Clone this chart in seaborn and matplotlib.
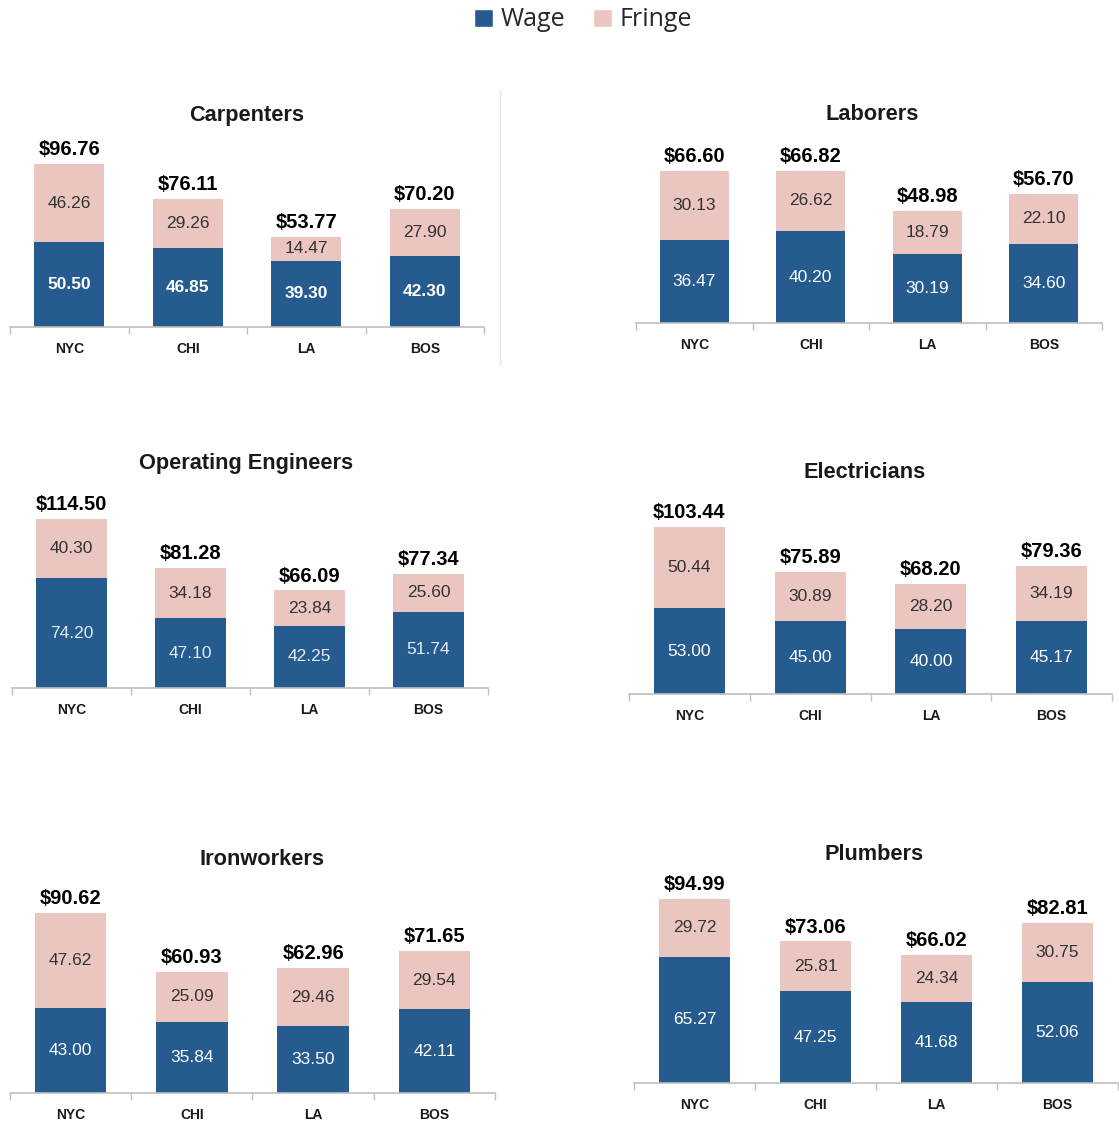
import matplotlib
matplotlib.use("Agg")
import matplotlib.pyplot as plt
from matplotlib.patches import Patch
from matplotlib.lines import Line2D
import seaborn as sns
import pandas as pd

sns.set_style("white")
plt.rcParams['font.family'] = ['Liberation Sans', 'DejaVu Sans']

cities = ["NYC", "CHI", "LA", "BOS"]

carpenters_wage = [50.50, 46.85, 39.30, 42.30]
carpenters_fringe = [46.26, 29.26, 14.47, 27.90]
carpenters_total = [96.76, 76.11, 53.77, 70.20]

laborers_wage = [36.47, 40.20, 30.19, 34.60]
laborers_fringe = [30.13, 26.62, 18.79, 22.10]
laborers_total = [66.60, 66.82, 48.98, 56.70]

operating_wage = [74.20, 47.10, 42.25, 51.74]
operating_fringe = [40.30, 34.18, 23.84, 25.60]
operating_total = [114.50, 81.28, 66.09, 77.34]

electricians_wage = [53.00, 45.00, 40.00, 45.17]
electricians_fringe = [50.44, 30.89, 28.20, 34.19]
electricians_total = [103.44, 75.89, 68.20, 79.36]

ironworkers_wage = [43.00, 35.84, 33.50, 42.11]
ironworkers_fringe = [47.62, 25.09, 29.46, 29.54]
ironworkers_total = [90.62, 60.93, 62.96, 71.65]

plumbers_wage = [65.27, 47.25, 41.68, 52.06]
plumbers_fringe = [29.72, 25.81, 24.34, 30.75]
plumbers_total = [94.99, 73.06, 66.02, 82.81]

WAGE = "#255B8F"
FRINGE = "#EBC5C0"

W, H = 1119, 1127
fig = plt.figure(figsize=(W / 100, H / 100), dpi=100)

# layout in pixels: axis_y, x0, x1, px-per-unit, title_x, title_y
panels = [
    ("Carpenters", carpenters_wage, carpenters_fringe, carpenters_total,
     327, 10, 484, 1.683, 247, 124, dict(wage_bold=True, wage_color="white")),
    ("Laborers", laborers_wage, laborers_fringe, laborers_total,
     323, 636, 1102, 2.28, 872, 123, dict(wage_bold=False, wage_color="white")),
    ("Operating Engineers", operating_wage, operating_fringe, operating_total,
     688, 12, 488, 1.476, 246, 472, dict(wage_bold=False, wage_color="#E4E9F2")),
    ("Electricians", electricians_wage, electricians_fringe, electricians_total,
     694, 629, 1112, 1.614, 865, 481, dict(wage_bold=False, wage_color="white")),
    ("Ironworkers", ironworkers_wage, ironworkers_fringe, ironworkers_total,
     1093, 10, 495, 1.986, 262, 868, dict(wage_bold=False, wage_color="white")),
    ("Plumbers", plumbers_wage, plumbers_fringe, plumbers_total,
     1083, 634, 1118, 1.937, 874, 863, dict(wage_bold=False, wage_color="white")),
]

AX_H = 210
for title, wage, fringe, total, ay, x0, x1, scale, tx, ty, sty in panels:
    ax = fig.add_axes([x0 / W, 1 - ay / H, (x1 - x0) / W, AX_H / H])
    df = pd.DataFrame({"city": cities, "wage": wage, "fringe": fringe})
    df["stack"] = df["wage"] + df["fringe"]
    sns.barplot(data=df, x="city", y="stack", color=FRINGE, saturation=1,
                width=0.59, ax=ax, order=cities, linewidth=0)
    sns.barplot(data=df, x="city", y="wage", color=WAGE, saturation=1,
                width=0.59, ax=ax, order=cities, linewidth=0)
    ax.set_xlim(-0.5, 3.5)
    ax.set_ylim(0, AX_H / scale)
    ax.set_xlabel("")
    ax.set_ylabel("")
    ax.set_yticks([])
    for s in ["top", "right", "left"]:
        ax.spines[s].set_visible(False)
    ax.spines["bottom"].set_color("#BFBFBF")
    ax.spines["bottom"].set_linewidth(1.2)
    ax.set_xticks([-0.5, 0.5, 1.5, 2.5, 3.5])
    ax.set_xticklabels([])
    ax.tick_params(axis="x", which="major", length=5, width=1, color="#BFBFBF",
                   direction="out", bottom=True)
    ax.set_xticks(range(4), minor=True)
    ax.set_xticklabels(cities, minor=True, fontsize=10, fontweight="bold",
                       color="#1a1a1a")
    ax.tick_params(axis="x", which="minor", length=0, pad=11)

    for i in range(4):
        ax.text(i, wage[i] / 2, f"{wage[i]:.2f}", ha="center", va="center",
                fontsize=12.5, color=sty["wage_color"],
                fontweight="bold" if sty["wage_bold"] else "normal")
        ax.text(i, wage[i] + fringe[i] / 2, f"{fringe[i]:.2f}", ha="center",
                va="center", fontsize=12.5, color="#333333")
        ax.annotate(f"${total[i]:.2f}", (i, wage[i] + fringe[i]),
                    xytext=(0, 3.5), textcoords="offset points",
                    ha="center", va="bottom", fontsize=14.5, fontweight="bold",
                    color="black")
    ax.set_title(title, x=(tx - x0) / (x1 - x0), y=(ay - ty) / AX_H,
                 va="center", ha="center", fontsize=15.7,
                 fontweight="bold", color="#1a1a1a")

# separator line next to first panel
fig.add_artist(Line2D([500 / W, 500 / W], [1 - 90 / H, 1 - 365 / H],
                      color="#E6E6E6", linewidth=1))

handles = [Patch(facecolor=WAGE, label="Wage"), Patch(facecolor=FRINGE, label="Fringe")]
leg = fig.legend(handles=handles, loc="center", bbox_to_anchor=(583 / W, 1 - 20 / H),
                 ncol=2, frameon=False, handlelength=0.75, handleheight=0.75,
                 handletextpad=0.3, columnspacing=1.1,
                 prop={"family": ["Open Sans", "DejaVu Sans"], "size": 18})

fig.savefig("out.png", dpi=100)
